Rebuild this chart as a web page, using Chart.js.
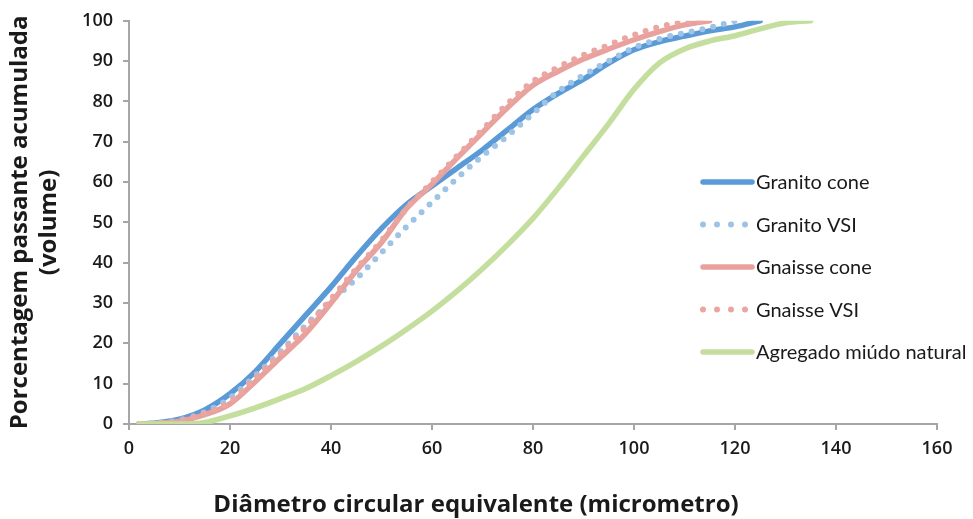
<!DOCTYPE html>
<html>
<head>
<meta charset="utf-8">
<title>Distribuição granulométrica</title>
<script src="https://cdn.jsdelivr.net/npm/chart.js@4.4.0/dist/chart.umd.min.js"></script>
<style>
    html, body { margin: 0; padding: 0; background: #fff; }
    #wrap { width: 973px; height: 519px; position: relative; }
</style>
</head>
<body>
<div id="wrap"><canvas id="chart"></canvas></div>
<script>
// Diâmetro (micrometro) - common x grid
const diameter = [2, 5, 10, 15, 20, 25, 30, 35, 40, 45, 50, 55, 60, 65, 70, 75, 80, 85, 90, 95, 100, 105, 110, 115, 120, 125, 130, 135];

// Porcentagem passante acumulada (%)
const graniteCone = [0, 0.2, 1.2, 3.5, 7.5, 13, 20, 27, 34, 41.5, 48.5, 54.5, 59, 63.5, 68, 73, 78, 82, 85.5, 89.5, 92.8, 94.8, 96.2, 97.5, 98.5, 100, null, null];
const graniteVSI = [0, 0.2, 1, 3, 6.5, 12, 18, 24.5, 30.5, 36, 42.5, 49, 55, 61, 66.5, 71.5, 77, 82.5, 86.5, 90, 93.3, 95.5, 97, 98.3, 100, null, null, null];
const gneissCone = [0, 0.1, 0.7, 2.3, 5, 10.5, 16.5, 22.5, 30, 38, 45, 53.5, 59.5, 66, 72.3, 78.5, 84, 87.5, 90.5, 93, 95.3, 97.3, 99, 100, null, null, null, null];
const gneissVSI = [0, 0.1, 0.8, 2.7, 5.5, 11.5, 17.5, 24, 31, 38.5, 45.5, 53.5, 60, 66.5, 73, 79.5, 85, 88.5, 91.5, 94, 96.5, 98.5, 99.7, 100, null, null, null, null];
const naturalSand = [0, 0, 0, 0.4, 2, 4, 6.3, 8.8, 12, 15.5, 19.3, 23.5, 28, 33, 38.5, 44.5, 51, 58.5, 66.5, 74.5, 83, 89.5, 93, 95, 96.3, 98, 99.5, 100];

const seriesLabels = ['Granito cone', 'Granito VSI', 'Gnaisse cone', 'Gnaisse VSI', 'Agregado miúdo natural'];
const seriesValues = [graniteCone, graniteVSI, gneissCone, gneissVSI, naturalSand];
const seriesColors = ['#5A9AD6', '#9DC3E6', '#E8A19C', '#EBA6A1', '#C4DE9E'];
const seriesDotted = [false, true, false, true, false];

const xTicks = [0, 20, 40, 60, 80, 100, 120, 140, 160];
const yTicks = [0, 10, 20, 30, 40, 50, 60, 70, 80, 90, 100];

const xTitle = 'Diâmetro circular equivalente (micrometro)';
const yTitle = ['Porcentagem passante acumulada', '(volume)'];

const axisGray = '#A6A6A6';
const textDark = '#1A1A1A';

function toPoints(values) {
    return values.map((v, i) => ({ x: diameter[i], y: v }));
}

const datasets = seriesValues.map((values, i) => ({
    label: seriesLabels[i],
    data: toPoints(values),
    borderColor: seriesColors[i],
    backgroundColor: seriesColors[i],
    borderWidth: seriesDotted[i] ? 6 : 5.5,
    borderDash: seriesDotted[i] ? [0, 11] : [],
    borderCapStyle: 'round',
    borderJoinStyle: 'round',
    pointRadius: 0,
    cubicInterpolationMode: 'monotone',
    fill: false,
    order: -i
}));

// Legend drawn inside the plot, right side
const insideLegend = {
    id: 'insideLegend',
    afterDraw(chart) {
        const ctx = chart.ctx;
        const x0 = 703, x1 = 752, top = 182, step = 42.5;
        ctx.save();
        ctx.font = '20px Lato';
        ctx.textBaseline = 'middle';
        ctx.fillStyle = textDark;
        chart.data.datasets.forEach((ds, i) => {
            const y = top + i * step;
            ctx.beginPath();
            ctx.strokeStyle = ds.borderColor;
            ctx.lineWidth = ds.borderWidth;
            ctx.lineCap = 'round';
            ctx.setLineDash(seriesDotted[i] ? [0, 14] : []);
            ctx.moveTo(x0, y);
            ctx.lineTo(x1, y);
            ctx.stroke();
            ctx.setLineDash([]);
            ctx.fillText(ds.label, x1 + 4, y + 1);
        });
        ctx.restore();
    }
};

// X axis title, centred on the figure rather than the plot
const bottomTitle = {
    id: 'bottomTitle',
    afterDraw(chart) {
        const ctx = chart.ctx;
        ctx.save();
        ctx.font = 'bold 24px "Open Sans"';
        ctx.fillStyle = textDark;
        ctx.textAlign = 'center';
        ctx.textBaseline = 'middle';
        ctx.fillText(xTitle, 476, 505);
        ctx.restore();
    }
};

new Chart(document.getElementById('chart'), {
    type: 'line',
    data: { datasets: datasets },
    options: {
        responsive: true,
        maintainAspectRatio: false,
        animation: false,
        layout: { padding: { top: 19, right: 36, left: 0, bottom: 0 } },
        plugins: {
            legend: { display: false },
            tooltip: { enabled: false }
        },
        scales: {
            x: {
                type: 'linear',
                min: 0,
                max: 160,
                afterBuildTicks: s => { s.ticks = xTicks.map(v => ({ value: v })); },
                afterFit: s => { s.height = 95; },
                border: { color: axisGray, width: 2 },
                grid: { drawOnChartArea: false, drawTicks: true, tickLength: 6, color: axisGray, lineWidth: 2 },
                ticks: {
                    color: textDark,
                    padding: 8,
                    maxRotation: 0,
                    font: { family: '"Open Sans"', size: 18, weight: '600' }
                }
            },
            y: {
                type: 'linear',
                min: 0,
                max: 100,
                afterBuildTicks: s => { s.ticks = yTicks.map(v => ({ value: v })); },
                afterFit: s => { s.width = 129; },
                border: { color: axisGray, width: 2 },
                grid: { drawOnChartArea: false, drawTicks: true, tickLength: 6, color: axisGray, lineWidth: 2 },
                ticks: {
                    color: textDark,
                    padding: 10,
                    font: { family: '"Open Sans"', size: 18, weight: '600' }
                },
                title: {
                    display: true,
                    text: yTitle,
                    color: textDark,
                    padding: { top: 6, bottom: 0 },
                    font: { family: '"Open Sans"', size: 24, weight: 'bold', lineHeight: 1.2 }
                }
            }
        }
    },
    plugins: [insideLegend, bottomTitle]
});
</script>
</body>
</html>
